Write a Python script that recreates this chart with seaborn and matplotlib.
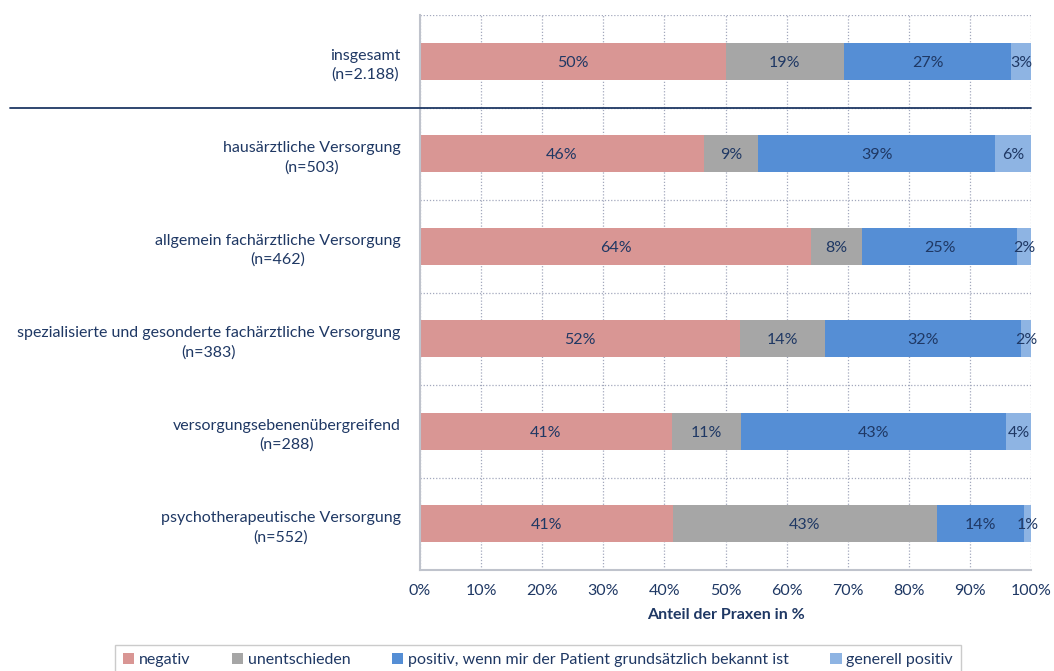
import matplotlib
matplotlib.use("Agg")
import matplotlib.pyplot as plt
from matplotlib.patches import Patch
from matplotlib.transforms import blended_transform_factory
import seaborn as sns
import pandas as pd
import numpy as np

# data (shares in %)
groups = ["insgesamt\n(n=2.188)",
          "hausärztliche Versorgung\n(n=503)",
          "allgemein fachärztliche Versorgung\n(n=462)",
          "spezialisierte und gesonderte fachärztliche Versorgung\n(n=383)",
          "versorgungsebenenübergreifend\n(n=288)",
          "psychotherapeutische Versorgung\n(n=552)"]
negativ = [50.0, 46.4, 64.0, 52.4, 41.2, 41.4]
unentschieden = [19.4, 9.0, 8.4, 13.9, 11.3, 43.2]
positiv_bekannt = [27.4, 38.7, 25.3, 32.1, 43.4, 14.2]
generell_positiv = [3.2, 5.9, 2.3, 1.6, 4.1, 1.2]

series_names = ["negativ", "unentschieden",
                "positiv, wenn mir der Patient grundsätzlich bekannt ist",
                "generell positiv"]
colors = ["#D99694", "#A6A6A6", "#558ED5", "#8EB4E3"]
text_col = "#1F3864"
fs = 11.5

sns.set_theme(style="white")
plt.rcParams['font.family'] = ['Lato', 'DejaVu Sans']

df = pd.DataFrame({"group": groups, "negativ": negativ, "unentschieden": unentschieden,
                   "positiv_bekannt": positiv_bekannt, "generell_positiv": generell_positiv})
cols = ["negativ", "unentschieden", "positiv_bekannt", "generell_positiv"]
cum = df[cols].cumsum(axis=1)

fig = plt.figure(figsize=(10.54, 6.71), dpi=100)
ax = fig.add_axes([420/1054, 1-570/671, 611/1054, 555/671])

# stacked bars: draw cumulative totals from the widest back to front
for col, c in reversed(list(zip(cols, colors))):
    sns.barplot(x=cum[col], y=df["group"], orient="h", color=c, width=0.4,
                saturation=1, linewidth=0, ax=ax)

# value labels
for i in range(len(groups)):
    start = 0
    for col in cols:
        v = df.loc[i, col]
        ax.text(start + v/2, i, f"{round(v):.0f}%", ha="center", va="center_baseline",
                color=text_col, fontsize=fs)
        start += v

ax.set_xlim(0, 100)
ax.set_ylim(len(groups)-0.5, -0.5)
ax.set_xticks(np.arange(0, 101, 10))
ax.set_xticklabels([f"{t}%" for t in range(0, 101, 10)], color=text_col, fontsize=fs)
ax.set_yticks(range(len(groups)))
ax.set_yticklabels(groups, color=text_col, fontsize=fs, multialignment="center",
                   linespacing=1.45)
ax.tick_params(axis="y", length=0, pad=14)
ax.set_yticks(np.arange(0.5, len(groups)-0.5, 1), minor=True)
ax.tick_params(axis="y", which="minor", length=5, color="#BFC3CC", direction="out")
ax.tick_params(axis="x", length=4, color="#BFC3CC", direction="out", pad=6)
ax.set_xlabel("Anteil der Praxen in %", color=text_col, fontsize=fs,
              fontweight="bold", labelpad=7)
ax.set_ylabel("")

ax.grid(axis="x", which="major", linestyle=(0, (1, 1.5)), color="#A3A8BD", linewidth=0.9)
ax.grid(axis="y", which="minor", linestyle=(0, (1, 1.5)), color="#A3A8BD", linewidth=0.9)
ax.grid(axis="y", which="major", visible=False)
ax.axhline(-0.5, linestyle=(0, (1, 1.5)), color="#A3A8BD", linewidth=0.9)
ax.set_axisbelow(True)

for s in ["top", "right"]:
    ax.spines[s].set_visible(False)
for s in ["left", "bottom"]:
    ax.spines[s].set_color("#BFC3CC")
    ax.spines[s].set_linewidth(1.5)

# separator under "insgesamt"
tr = blended_transform_factory(fig.transFigure, ax.transData)
ax.plot([10/1054, 1031/1054], [0.5, 0.5], transform=tr, color=text_col,
        linewidth=1.3, clip_on=False, zorder=5)

handles = [Patch(facecolor=c, edgecolor="none") for c in colors]
leg = fig.legend(handles, series_names, loc="upper center", ncol=4,
                 bbox_to_anchor=(538/1054, 1-645/671), frameon=True, fancybox=False,
                 fontsize=fs, handlelength=0.7, handleheight=0.7, handletextpad=0.3,
                 columnspacing=2.6, borderpad=0.5, borderaxespad=0)
leg.get_frame().set_edgecolor("#BFBFBF")
leg.get_frame().set_linewidth(1.0)
for t in leg.get_texts():
    t.set_color(text_col)

fig.savefig("out.png", dpi=100)
